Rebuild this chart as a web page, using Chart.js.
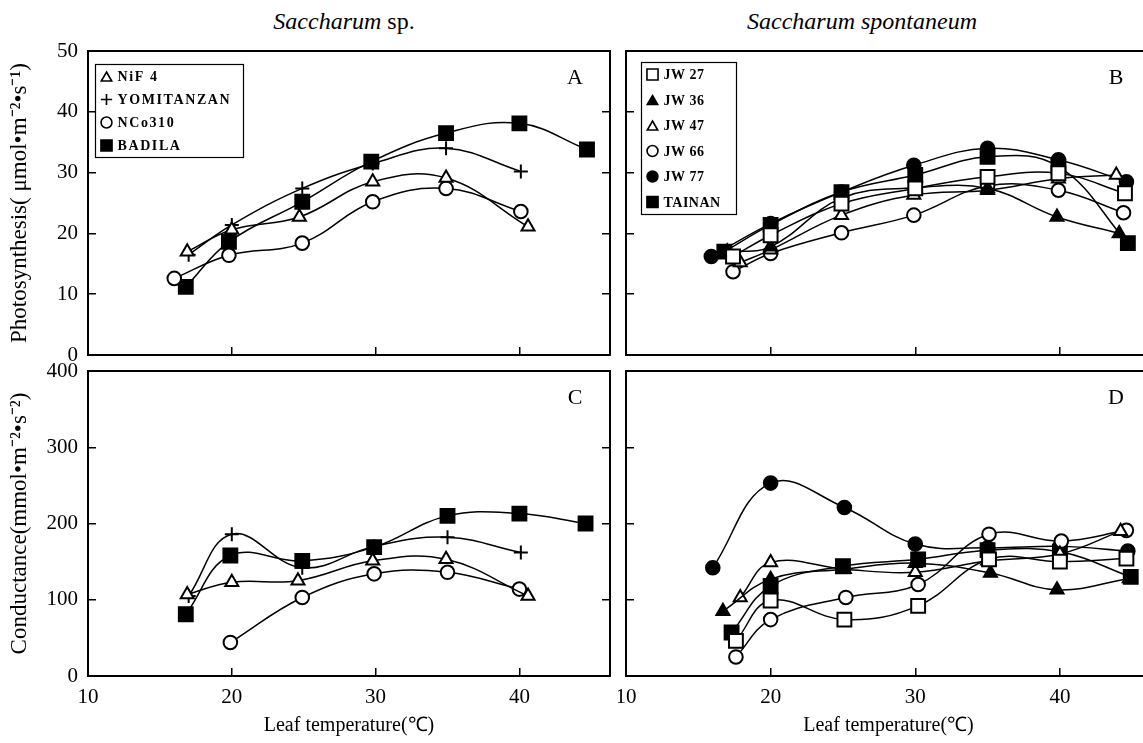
<!DOCTYPE html>
<html>
<head>
<meta charset="utf-8">
<script src="https://cdn.jsdelivr.net/npm/chart.js@4"></script>
<style>
  html, body { margin: 0; padding: 0; background: #fff; }
  body { width: 1143px; height: 743px; overflow: hidden; position: relative; font-family: "Liberation Serif", serif; }
  canvas { position: absolute; }
  .head { position: absolute; top: 8px; font-size: 24px; color: #000; transform: translateX(-50%); white-space: nowrap; }
</style>
</head>
<body>
<div class="head" style="left:344px"><i>Saccharum</i> sp.</div>
<div class="head" style="left:862px"><i>Saccharum spontaneum</i></div>
<canvas id="chart-a" width="618" height="363" style="left:0;top:0"></canvas>
<canvas id="chart-b" width="540" height="363" style="left:618px;top:0"></canvas>
<canvas id="chart-c" width="618" height="380" style="left:0;top:363px"></canvas>
<canvas id="chart-d" width="540" height="380" style="left:618px;top:363px"></canvas>
<script>
// tick values
const X_TICKS = [10, 20, 30, 40];
const PHOTO_TICKS = [0, 10, 20, 30, 40, 50];
const COND_TICKS = [0, 100, 200, 300, 400];

// A: Saccharum sp., photosynthesis (umol m-2 s-1) vs leaf temperature
const A_NIF4_T = [16.9, 20.0, 24.7, 29.8, 34.9, 40.6];
const A_NIF4 = [17.0, 20.6, 22.7, 28.5, 29.1, 21.1];
const A_YOMI_T = [17.0, 20.0, 24.9, 29.8, 34.9, 40.1];
const A_YOMI = [16.5, 21.4, 27.4, 31.5, 34.0, 30.2];
const A_NCO_T = [16.0, 19.8, 24.9, 29.8, 34.9, 40.1];
const A_NCO = [12.6, 16.4, 18.4, 25.2, 27.4, 23.6];
const A_BAD_T = [16.8, 19.8, 24.9, 29.7, 34.9, 40.0, 44.7];
const A_BAD = [11.2, 18.6, 25.2, 31.8, 36.5, 38.1, 33.8];

// C: Saccharum sp., conductance (mmol m-2 s-1)
const C_NIF4_T = [16.9, 20.0, 24.6, 29.8, 34.9, 40.6];
const C_NIF4 = [107, 123, 125, 151, 153, 105];
const C_YOMI_T = [17.0, 20.0, 24.9, 29.9, 35.0, 40.1];
const C_YOMI = [105, 186, 142, 170, 182, 162];
const C_NCO_T = [19.9, 24.9, 29.9, 35.0, 40.0];
const C_NCO = [44, 103, 134, 136, 114];
const C_BAD_T = [16.8, 19.9, 24.9, 29.9, 35.0, 40.0, 44.6];
const C_BAD = [81, 158, 151, 169, 210, 213, 200];

// B: Saccharum spontaneum, photosynthesis
const B_JW27_T = [17.4, 20.0, 24.9, 30.0, 35.0, 39.9, 44.5];
const B_JW27 = [16.2, 19.7, 24.9, 27.4, 29.3, 29.9, 26.6];
const B_JW36_T = [17.0, 20.0, 24.9, 30.0, 35.0, 39.8, 44.1];
const B_JW36 = [17.0, 17.8, 25.8, 27.5, 27.4, 22.7, 20.0];
const B_JW47_T = [17.9, 20.0, 24.9, 29.9, 35.0, 39.9, 43.9];
const B_JW47 = [15.2, 17.3, 23.0, 26.3, 27.1, 29.0, 29.6];
const B_JW66_T = [17.4, 20.0, 24.9, 29.9, 35.0, 39.9, 44.4];
const B_JW66 = [13.7, 16.7, 20.1, 23.0, 27.8, 27.1, 23.4];
const B_JW77_T = [15.9, 20.0, 24.9, 29.9, 35.0, 39.9, 44.6];
const B_JW77 = [16.2, 21.6, 26.8, 31.2, 34.0, 32.1, 28.5];
const B_TAI_T = [16.8, 20.0, 24.9, 30.0, 35.0, 39.9, 44.7];
const B_TAI = [17.0, 21.4, 26.8, 29.6, 32.6, 31.0, 18.4];

// D: Saccharum spontaneum, conductance
const D_JW27_T = [17.6, 20.0, 25.1, 30.2, 35.1, 40.0, 44.6];
const D_JW27 = [46, 99, 74, 92, 153, 150, 154];
const D_JW36_T = [16.7, 20.0, 25.0, 30.0, 35.2, 39.8, 44.8];
const D_JW36 = [85, 127, 140, 148, 135, 113, 128];
const D_JW47_T = [17.9, 20.0, 25.1, 30.0, 35.0, 40.0, 44.2];
const D_JW47 = [103, 149, 140, 136, 151, 160, 190];
const D_JW66_T = [17.6, 20.0, 25.2, 30.2, 35.1, 40.1, 44.6];
const D_JW66 = [25, 74, 103, 120, 186, 177, 191];
const D_JW77_T = [16.0, 20.0, 25.1, 30.0, 35.0, 40.0, 44.7];
const D_JW77 = [142, 253, 221, 173, 168, 170, 164];
const D_TAI_T = [17.3, 20.0, 25.0, 30.2, 35.0, 40.0, 44.9];
const D_TAI = [57, 118, 144, 153, 165, 163, 130];

const SERIF = '"Liberation Serif", "Times New Roman", serif';

// marker looks
const MARK = {
  tri:   {pointStyle: 'triangle', bg: '#fff', r: 7.5},
  triF:  {pointStyle: 'triangle', bg: '#000', r: 7.5},
  plus:  {pointStyle: 'cross', bg: '#000', r: 7},
  circ:  {pointStyle: 'circle', bg: '#fff', r: 6.8},
  circF: {pointStyle: 'circle', bg: '#000', r: 6.8},
  sq:    {pointStyle: 'rect', bg: '#fff', r: 9.8},
  sqF:   {pointStyle: 'rect', bg: '#000', r: 9.8}
};

function series(label, t, v, mark){
  const m = MARK[mark];
  return {
    label: label,
    data: t.map((x, i) => ({x: x, y: v[i]})),
    showLine: true,
    borderColor: '#000',
    borderWidth: 1.5,
    tension: 0.4,
    fill: false,
    pointStyle: m.pointStyle,
    pointRadius: m.r,
    pointBackgroundColor: m.bg,
    pointBorderColor: '#000',
    pointBorderWidth: 2
  };
}

// panel letter + framed legend, drawn inside the plot area
const panelDecor = {
  id: 'panelDecor',
  afterDraw(chart, args, o){
    const ctx = chart.ctx, ca = chart.chartArea;
    ctx.save();
    ctx.fillStyle = '#000';
    ctx.font = '22px ' + SERIF;
    ctx.textAlign = 'center';
    ctx.textBaseline = 'middle';
    ctx.fillText(o.letter, ca.right - 35, ca.top + 27);
    const L = o.legend;
    if(L){
      const bx = Math.round(ca.left + L.dx) + 0.5, by = Math.round(ca.top + L.dy) + 0.5;
      ctx.lineWidth = 1.2;
      ctx.strokeStyle = '#000';
      ctx.strokeRect(bx, by, L.w, L.h);
      chart.data.datasets.forEach((ds, i) => {
        const cy = by + L.first + i * L.row;
        ctx.fillStyle = ds.pointBackgroundColor;
        ctx.strokeStyle = '#000';
        ctx.lineWidth = 1.6;
        const po = {pointStyle: ds.pointStyle, radius: ds.pointRadius * 0.8, rotation: 0, borderWidth: 1.6};
        if(window.Chart && Chart.helpers && Chart.helpers.drawPoint){
          Chart.helpers.drawPoint(ctx, po, bx + L.mx, cy + (ds.pointStyle === 'triangle' ? 1.5 : 0));
        }
        ctx.fillStyle = '#000';
        ctx.font = 'bold 14px ' + SERIF;
        ctx.textAlign = 'left';
        ctx.textBaseline = 'middle';
        if('letterSpacing' in ctx) ctx.letterSpacing = L.spacing;
        ctx.fillText(ds.label, bx + L.tx, cy + 1);
        if('letterSpacing' in ctx) ctx.letterSpacing = '0px';
      });
    }
    ctx.restore();
  }
};

function makePanel(id, datasets, cfg){
  const tickFont = {family: SERIF, size: 21};
  const inward = {drawOnChartArea: false, drawTicks: true, tickLength: -8, color: '#000', lineWidth: 1.5};
  const frame = {display: true, color: '#000', width: 2};
  return new Chart(document.getElementById(id), {
    type: 'scatter',
    data: {datasets: datasets},
    plugins: [panelDecor],
    options: {
      responsive: false,
      animation: false,
      devicePixelRatio: 1,
      layout: {padding: cfg.pad, autoPadding: false},
      plugins: {
        legend: {display: false},
        tooltip: {enabled: false},
        panelDecor: {letter: cfg.letter, legend: cfg.legend}
      },
      scales: {
        x: {
          type: 'linear', position: 'bottom', min: 10, max: 46.3,
          afterBuildTicks: s => { s.ticks = X_TICKS.map(v => ({value: v})); },
          grid: inward, border: frame,
          ticks: {display: cfg.xLabels, font: tickFont, color: '#000', padding: 17, maxRotation: 0, autoSkip: false},
          title: {display: cfg.xLabels, text: 'Leaf temperature(℃)', font: {family: SERIF, size: 20}, color: '#000', padding: {bottom: 0}},
          afterFit: s => { s.height = cfg.xLabels ? 62 : 0; s.paddingLeft = 0; s.paddingRight = 0; }
        },
        xTop: {
          type: 'linear', position: 'top', min: 10, max: 46.3,
          grid: {display: false}, border: frame, ticks: {display: false},
          afterFit: s => { s.height = 0; }
        },
        y: {
          type: 'linear', position: 'left', min: cfg.yTicks[0], max: cfg.yTicks[cfg.yTicks.length - 1],
          afterBuildTicks: s => { s.ticks = cfg.yTicks.map(v => ({value: v})); },
          grid: inward, border: frame,
          ticks: {display: cfg.yLabels, font: tickFont, color: '#000', padding: 18},
          title: {display: !!cfg.yTitle, text: cfg.yTitle || '', font: {family: SERIF, size: 23}, color: '#000', padding: {top: 6}},
          afterFit: s => { s.width = cfg.yLabels ? 88 : 0; s.paddingTop = 0; s.paddingBottom = 0; }
        },
        yRight: {
          type: 'linear', position: 'right', min: cfg.yTicks[0], max: cfg.yTicks[cfg.yTicks.length - 1],
          afterBuildTicks: s => { s.ticks = cfg.yTicks.map(v => ({value: v})); },
          grid: inward, border: frame, ticks: {display: false},
          afterFit: s => { s.width = 0; }
        }
      }
    }
  });
}

const LEG_A = {dx: 7, dy: 13, w: 148, h: 93, first: 12, row: 23, mx: 11, tx: 22, spacing: '1.6px'};
const LEG_B = {dx: 15, dy: 11, w: 95, h: 152, first: 12, row: 25.5, mx: 11, tx: 22, spacing: '0.5px'};

makePanel('chart-a', [
  series('NiF 4', A_NIF4_T, A_NIF4, 'tri'),
  series('YOMITANZAN', A_YOMI_T, A_YOMI, 'plus'),
  series('NCo310', A_NCO_T, A_NCO, 'circ'),
  series('BADILA', A_BAD_T, A_BAD, 'sqF')
], {letter: 'A', legend: LEG_A, yTicks: PHOTO_TICKS, yLabels: true, xLabels: false,
    yTitle: 'Photosynthesis( μmol•m⁻²•s⁻¹)', pad: {left: 0, top: 51, right: 8, bottom: 8}});

makePanel('chart-b', [
  series('JW 27', B_JW27_T, B_JW27, 'sq'),
  series('JW 36', B_JW36_T, B_JW36, 'triF'),
  series('JW 47', B_JW47_T, B_JW47, 'tri'),
  series('JW 66', B_JW66_T, B_JW66, 'circ'),
  series('JW 77', B_JW77_T, B_JW77, 'circF'),
  series('TAINAN', B_TAI_T, B_TAI, 'sqF')
], {letter: 'B', legend: LEG_B, yTicks: PHOTO_TICKS, yLabels: false, xLabels: false,
    pad: {left: 8, top: 51, right: 7, bottom: 8}});

makePanel('chart-c', [
  series('NiF 4', C_NIF4_T, C_NIF4, 'tri'),
  series('YOMITANZAN', C_YOMI_T, C_YOMI, 'plus'),
  series('NCo310', C_NCO_T, C_NCO, 'circ'),
  series('BADILA', C_BAD_T, C_BAD, 'sqF')
], {letter: 'C', yTicks: COND_TICKS, yLabels: true, xLabels: true,
    yTitle: 'Conductance(mmol•m⁻²•s⁻²)', pad: {left: 0, top: 8, right: 8, bottom: 5}});

makePanel('chart-d', [
  series('JW 27', D_JW27_T, D_JW27, 'sq'),
  series('JW 36', D_JW36_T, D_JW36, 'triF'),
  series('JW 47', D_JW47_T, D_JW47, 'tri'),
  series('JW 66', D_JW66_T, D_JW66, 'circ'),
  series('JW 77', D_JW77_T, D_JW77, 'circF'),
  series('TAINAN', D_TAI_T, D_TAI, 'sqF')
], {letter: 'D', yTicks: COND_TICKS, yLabels: false, xLabels: true,
    pad: {left: 8, top: 8, right: 7, bottom: 5}});
</script>
</body>
</html>
